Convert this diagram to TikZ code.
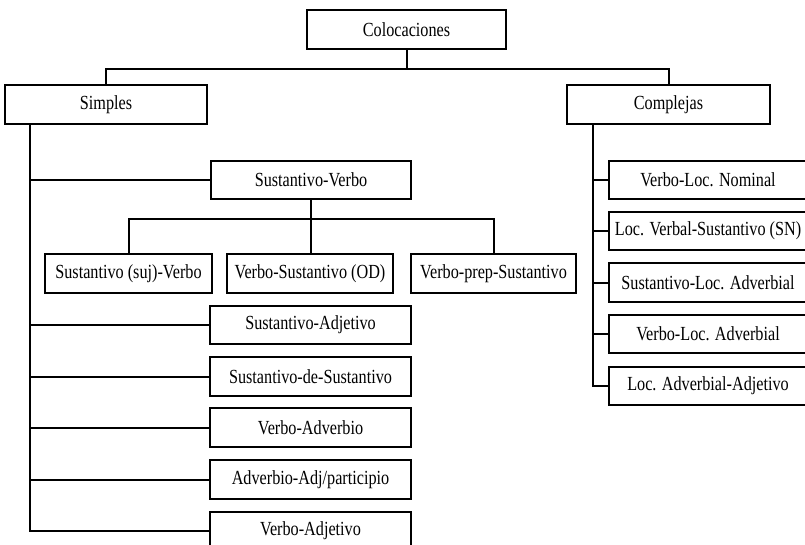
\documentclass[tikz,border=0pt]{standalone}
\usepackage{fontspec}
\setmainfont[FakeStretch=0.81]{Liberation Serif}
\begin{document}
\begin{tikzpicture}[x=1pt,y=-1pt,
  box/.style={draw, line width=2pt, inner sep=0pt, fill=white,
    font=\fontsize{20}{23}\selectfont, minimum height=38.5pt},
  link/.style={line width=2pt}]
\useasboundingbox (0,0) rectangle (805,545);
\clip (0,0) rectangle (805,545);
% top level
\node[box, minimum width=199pt] (col) at (406.5,29.5) {Colocaciones};
\node[box, minimum width=202pt] (simples) at (106,104.5) {Simples};
\node[box, minimum width=203pt] (complejas) at (668.5,104.5) {Complejas};
% simples children
\node[box, minimum width=200pt] (sv) at (311,180) {Sustantivo-Verbo};
\node[box, minimum width=167pt] (ssv) at (128.5,273.5) {Sustantivo (suj)-Verbo};
\node[box, minimum width=166pt] (vsod) at (310,273.5) {Verbo-Sustantivo (OD)};
\node[box, minimum width=165pt] (vps) at (493.5,273.5) {Verbo-prep-Sustantivo};
\node[box, minimum width=201pt] (sa) at (310.5,325) {Sustantivo-Adjetivo};
\node[box, minimum width=201pt] (sds) at (310.5,376.5) {Sustantivo-de-Sustantivo};
\node[box, minimum width=201pt] (vadv) at (310.5,427.5) {Verbo-Adverbio};
\node[box, minimum width=201pt] (aap) at (310.5,479.5) {Adverbio-Adj/participio};
\node[box, minimum width=201pt] (vadj) at (310.5,531) {Verbo-Adjetivo};
% complejas children
\node[box, minimum width=198pt] (c1) at (708,180) {Verbo-Loc. Nominal};
\node[box, minimum width=198pt] (c2) at (708,231) {Loc. Verbal-Sustantivo (SN)};
\node[box, minimum width=198pt] (c3) at (708,282.5) {Sustantivo-Loc. Adverbial};
\node[box, minimum width=198pt] (c4) at (708,334) {Verbo-Loc. Adverbial};
\node[box, minimum width=198pt] (c5) at (708,386) {Loc. Adverbial-Adjetivo};
% connectors top
\draw[link] (col.south) -- ++(0,19) -| (simples.north);
\draw[link] (col.south) -- ++(0,19) -| (complejas.north);
% simples trunk
\coordinate (st) at (30,124);
\draw[link] (st) -- (st |- vadj.west) -- (vadj.west);
\foreach \n in {sv,sa,sds,vadv,aap} {\draw[link] (st |- \n.west) -- (\n.west);}
% sustantivo-verbo subtree
\draw[link] (sv.south) -- ++(0,19) -| (ssv.north);
\draw[link] (sv.south) -- ++(0,19) -| (vps.north);
\draw[link] (sv.south) -- (sv.south |- vsod.north);
% complejas trunk
\coordinate (ct) at (593,124);
\draw[link] (ct) -- (ct |- c5.west) -- (c5.west);
\foreach \n in {c1,c2,c3,c4} {\draw[link] (ct |- \n.west) -- (\n.west);}
\end{tikzpicture}
\end{document}
